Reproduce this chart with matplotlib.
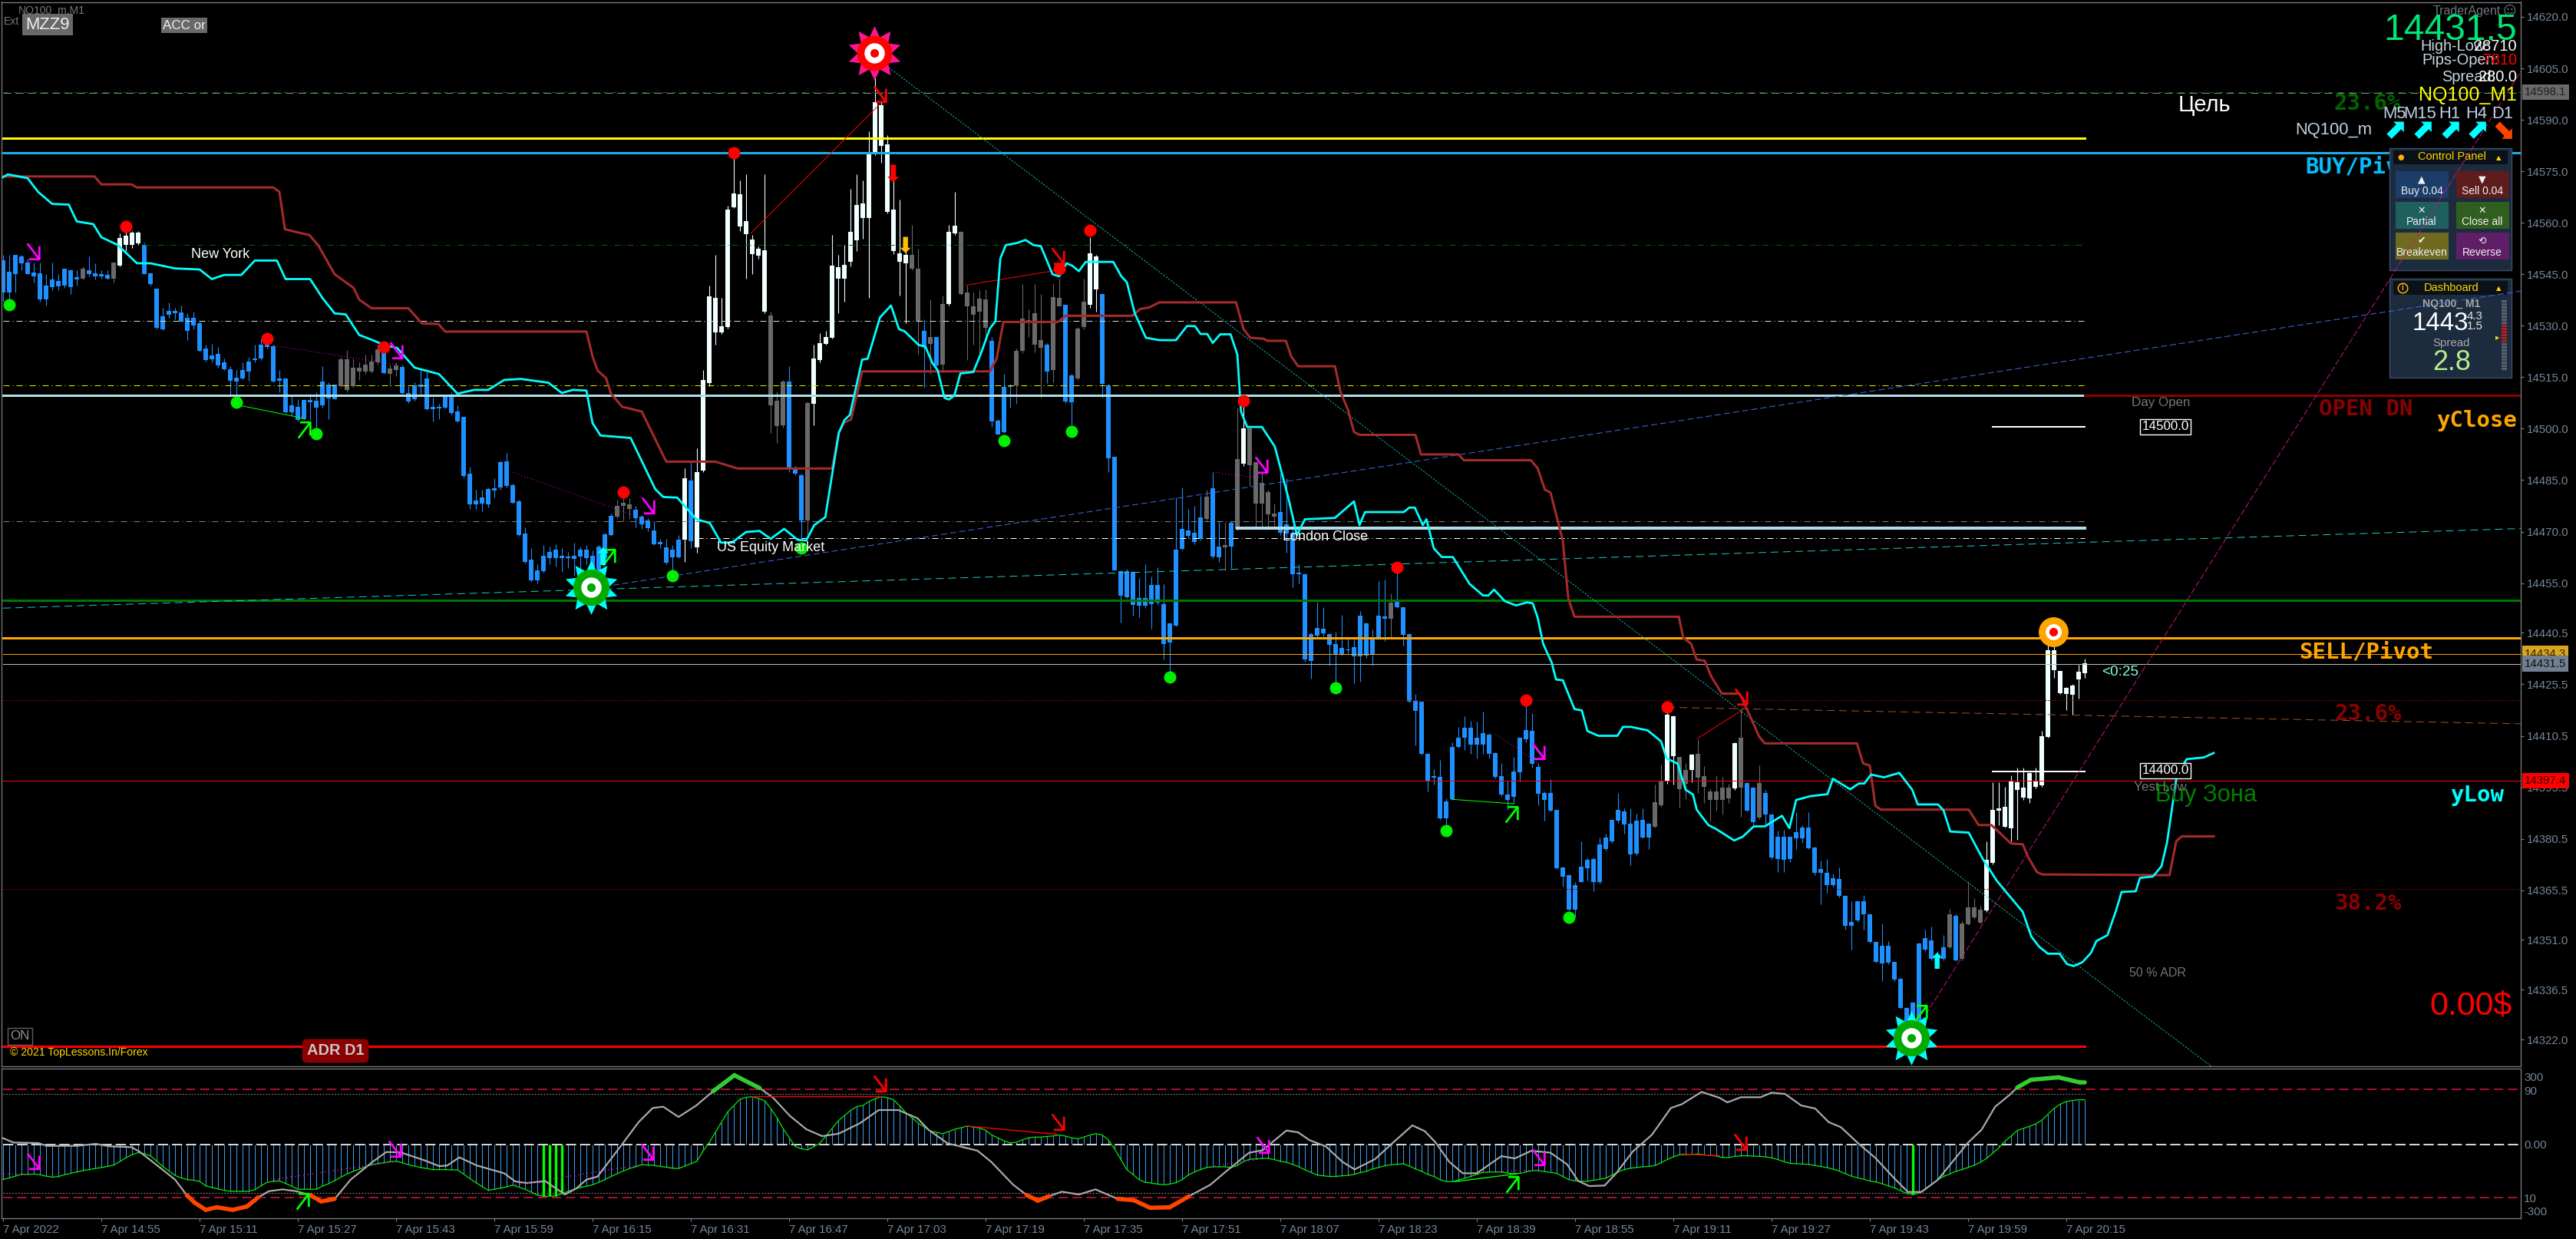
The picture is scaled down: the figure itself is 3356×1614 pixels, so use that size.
import numpy as np
import matplotlib
matplotlib.use('Agg')
import matplotlib.pyplot as plt
from matplotlib.patches import Rectangle
from matplotlib.path import Path
from matplotlib.transforms import Affine2D

# prices below are stored as offset from this base
PRICE_BASE = 14300

candle_top = [
    249,245.6,250.5,250.1,248.2,245.3,245.2,241.6,243.3,242.9,
    246.4,246.1,244.1,246.4,246.1,245.2,245,244.6,248.2,255.5,
    256.2,257,257,253.5,245.2,240.6,232.7,234.1,234.1,233.8,
    232.2,232.2,230.6,223.1,221.2,221.6,219.2,217.2,214.6,217,
    219.5,220.4,224.4,224.4,223.9,214.4,214.4,206.7,206.2,208.2,
    208.2,207.9,213.5,212.8,212.8,220.1,220.1,217.6,217.6,218.5,
    219.3,222.9,223.9,217.4,218.2,217.8,210.2,212.4,212.8,214.4,
    206.2,206.2,209.8,209.8,204.8,203.3,186.8,179,179.9,182.2,
    182.5,190.2,190.4,183.3,178.8,169.4,161.6,158.5,162.8,163.9,
    164.5,162.8,162.6,162.8,164.5,164.5,162.8,165.6,169,174.4,
    177.4,178.2,177.9,176.3,174.2,173.1,170.1,166.8,165.3,164.7,
    167.6,185.4,184.7,187.1,214,238.5,237.9,229.6,263.8,268.4,
    268.1,260.4,255,252.4,251.8,232.8,207.9,213.6,213.6,188.5,
    186.2,207.3,220.4,224.7,226.5,247.3,247,247.5,257.3,265,
    265.5,279.8,295,294.1,282.7,263.8,250.9,250.5,250.5,246.4,
    228.4,226.5,226.5,236.1,257.3,258.9,257.3,239.5,235.6,237.8,
    237.6,225.4,202.2,212.1,212.4,222.5,231.9,231.5,233.6,225.6,
    224.4,238.1,237.9,235.9,215.3,229,236.8,250.9,250.1,239,
    212.4,191.6,158.3,158.4,158.1,150.5,150.5,154.4,154.4,148.7,
    143.2,164.5,170.6,170.2,169.6,174,180.1,182.4,165.6,165.9,
    172.5,191.1,199.9,199.9,190,184.1,181.4,175.1,175.6,171.9,
    169.6,158,157.5,140,141.8,141.6,140,137.1,136,135.6,
    136.3,145.3,143.2,138.6,145.3,145.2,149.1,149.6,147.9,140,
    120.6,120.2,105.1,98.7,98.4,91.3,107.1,109.7,112.8,112.8,
    109.7,111.2,110.6,105.3,98.6,93.2,100,109.7,112.1,111.9,
    101.2,93.6,93.6,88.8,72.1,69.7,66.8,72.2,74.2,74.5,
    78.8,80.8,85.9,88.8,88.3,84.7,85.7,85.9,84.7,91.1,
    97.3,116.4,116.1,104.1,100.3,104.8,105.1,98.6,94.2,94.2,
    95.2,95.2,108.3,109.7,96.5,95.2,96.5,93.6,87.5,80.9,
    80.9,80.9,82.3,83.6,83.6,77.8,71.5,70.4,68.9,68.6,
    63.8,56.2,62.1,62.2,58.4,50.4,49.2,49.1,44.4,39.5,
    31,32.7,49.8,51.3,50.7,46.8,48.8,58.4,58,55.6,
    60.3,60.3,59.7,74.2,88.8,89.2,89.6,97.3,96.9,95.2,
    99.5,97.2,110.2,135.2,135.4,129.2,124.3,125.1,129,131.4]

candle_bottom = [
    239.8,239.8,245,248.2,245,244.4,237.6,237.6,241.2,241.4,
    241.6,241.2,243.6,243.8,245,244.3,244.3,243.8,243.8,247.5,
    253.5,253.5,253.9,245,242.1,229.5,229,233.3,233.6,231.3,
    228.4,230.1,222.7,219.9,220.3,218.5,217.4,213.9,213.8,214.6,
    216.7,219.9,220.4,223.9,213.8,213.9,204.8,204.8,202.5,202.7,
    207.6,206.2,206.7,208.8,208.7,212.4,211.3,212.4,216.7,216.7,
    216.7,219.3,216.2,215.9,217,210.4,207.9,208.5,212.1,205.6,
    205.7,205.8,206.2,204.5,202.2,186.2,177.9,177.9,178.2,178,
    182,182.8,183.3,178.5,169,161.1,155.7,155.7,158.5,162.2,
    162.2,162.2,162.3,162.1,162.8,162.2,153.7,153.7,162.2,169,
    174.4,177.6,176.5,174,172.2,171,166.4,166.4,160.9,162.6,
    162.6,167.6,167.1,165.5,187.9,213.2,228.1,228.1,229.6,264.6,
    258.9,256.7,250.9,250.5,234,206.7,200.8,201,188.5,187,
    173.3,173.3,207.3,219.9,224.7,226.5,243.8,243.8,248.6,255,
    261.3,261.5,280.1,282.4,263.2,251.8,248.6,248.2,246.7,231.3,
    223.9,224.7,218.5,218.7,236.3,256.9,239.3,235.6,233.2,234.1,
    229.5,202.2,198.4,199,212.1,212.7,222.7,231.3,224.4,223.6,
    216.7,217,235.6,207.9,207.7,214.7,229.6,236.1,240.6,213,
    191.3,158.8,151.4,150.9,148.7,148.4,148.4,148.9,149.4,137.3,
    137.7,142.5,164.9,168.8,167,167.9,173.6,162.8,162.6,165.5,
    165.6,170.8,189.8,189.4,178.2,178.2,175.1,174.4,169.6,169.4,
    157.7,157.7,132.7,132.4,139.8,140.4,137.1,134.2,134.3,135.4,
    133.6,133.6,133.8,134.1,138.9,144.7,144.6,148,140,120.5,
    117.8,105.3,97.5,98.4,86.4,86.4,92,107.3,109.9,108,
    108,108,105.3,98.6,93.4,91.9,92.8,99.8,109.6,102.4,
    93.6,91.8,88.8,72,69.5,59.8,59.8,67.8,72,67.8,
    67.8,77.4,79.7,85.7,84.7,75.9,76.1,80.8,80.8,84.1,
    90.2,97.3,104.6,95,96.6,100.5,98.2,95.6,91.8,91.8,
    91.8,92.2,95.2,95.4,88.8,85.3,86.6,87.5,75.1,74.6,
    74.4,74.6,80.6,80.6,77.8,70.6,70.6,66.9,66.9,63.9,
    55.2,55.2,56.7,58.4,50.4,44.7,44.1,44.3,39.5,31.2,
    23.3,23.3,23.7,48.1,45.5,45.5,45.5,48.8,45.1,45.5,
    55.6,57.5,56,59.7,73.4,88.8,84.1,83.6,94.8,92.6,
    92.2,95.6,96,110.2,129.6,123,122.6,122.4,127,128.8]

candle_high = [
    250.7,250.7,250.7,250.7,249.6,248.4,248.4,245,248.4,245,
    246.7,246.4,246.1,247.3,250.1,248.2,246.1,246.1,248.2,257,
    257.5,257.5,257.5,254.3,245.6,240.6,235.3,236.8,235.3,235.9,
    233.6,234.1,231.3,224.4,224.7,223.9,220.4,218.2,217,219.3,
    221,224.4,226.2,227,224.4,217,214.4,209.6,208.5,208.2,
    210.2,210.7,218.2,213.6,212.8,221,223,220.4,219.3,221.6,
    221.6,224.4,225.6,218.7,219.3,218.7,212.4,213.6,217.6,216.4,
    209,207.3,209.8,210.7,206.7,203.3,189,182.2,182.2,182.8,
    185.6,190.8,193,183.9,179.4,171.3,165.1,160.5,166.2,165.6,
    166.4,165.1,164,166.8,165.6,166.2,164.5,166.2,169.6,175.3,
    179.4,181.6,179.7,177.6,174.9,173.9,173.1,167.9,167.9,166.2,
    169.1,188.5,190.2,194.2,217,241.6,250.7,238.1,265,279.2,
    272.4,274.1,256.4,253,274.1,234.1,210.8,214.2,218.2,189.1,
    186.8,207.9,224.4,227.9,228.4,256.4,250.7,253.5,270,274.1,
    272.4,286.7,308.9,295.4,285.5,275.8,266.7,252,259.3,252.4,
    231.9,237.6,226.7,238.7,259.3,269,257.6,241.6,239.8,240.4,
    240.6,226.7,202.8,215.9,213,223.3,242.1,234.7,242.1,239.3,
    225,242.1,243.8,236.1,215.9,229.6,243.8,255.8,250.7,239.3,
    213,191.9,158.7,159.2,158.5,156.4,160.5,156.9,159.6,154.6,
    143.6,179.9,182.8,176.5,177.6,180.5,182.2,187.3,173.1,172.8,
    173.1,206.2,207.3,200.5,190.2,187.3,182.2,178.2,186.8,185.6,
    171.9,160.5,157.8,140.5,149.6,148,140.4,140.9,145.7,139.1,
    138.6,146.8,143.6,141.4,155.5,156,151.9,159.6,148.2,140.4,
    122.6,120.4,105.3,100.7,103.5,92.2,108.5,113,116.2,114.9,
    114.6,117.6,111.2,105.7,102.5,97.5,104.4,109.9,120.8,117.2,
    102.6,94.2,97.8,89,72.4,70.1,67.8,79.7,74.9,75.1,
    80.8,82,86.1,93.9,89.3,89.3,87.9,89.3,85.2,96.2,
    102.1,120.4,116.4,104.4,102.5,105.2,109.4,101.6,95.2,99,
    98.6,96.5,108.5,118.3,96.9,95.6,102,94.8,87.9,82.8,
    83.2,81,88.3,84.5,88.3,78.1,74.2,74.6,70.4,72.1,
    64,62.2,62.2,64,58.8,50.7,55.8,50.7,44.7,39.9,
    31.4,33.1,50.2,54.1,55,47.7,52.4,60.1,58.4,56.6,
    68.2,63.1,61,79.8,96.9,96.9,95.6,99,101.2,101.2,
    99.9,101.2,111.9,141.8,137.6,129.4,124.7,125.6,131.1,133]

candle_low = [
    237,237.6,239.8,246.1,245,242.7,237,235.9,240.4,240.4,
    241,239.3,241.6,243.6,244.4,243.6,243.8,243.6,242.5,247.3,
    251.8,252.7,253.5,245,241.6,229,228.7,232.2,231.9,231.1,
    225.8,229,222.5,219.6,219.3,217.8,217,209.6,209.4,214.4,
    213.9,219.3,220.1,223.3,213.6,210.7,204.5,203.9,202.2,202.5,
    202.5,199.9,206.2,202.7,208.5,211.9,210.7,211.9,214.2,215.9,
    216.2,218.7,215.9,212.4,215.3,210.2,207.5,208.2,209.6,205.4,
    202.2,202.7,206,204.1,201.8,185.8,176.7,176.7,175.9,177,
    179.9,182.3,182.9,178.1,168.7,160.7,155.4,155,158.1,160.5,
    159.9,158.2,159.4,157.1,159.4,160.5,152.5,152.5,161.8,168.7,
    174,173.1,173.6,171.3,170.8,170.2,166.2,165.1,160.5,158.8,
    162.2,161.1,165.1,163.9,187.3,212.4,224.4,227.6,229.2,264.4,
    257.5,243.8,245,249.6,233.6,198.7,195.9,200.4,187.3,186.5,
    167.4,167.9,201,219.3,224.4,226.2,233.6,237,247.3,251.8,
    255.3,238.1,279.8,277.5,262.7,250.8,238.7,230.7,246.1,221.6,
    211.9,215.9,218.2,216.4,235.9,256.4,239.1,219.9,224.4,220.4,
    226.2,200.5,198.2,198.7,206.2,207.3,222.1,226.7,222.2,209,
    213.3,213.6,235.7,207.5,201,214.2,229,235.3,234.1,209,
    187.3,158.7,143.6,150.6,145.5,145,147.8,141.8,148.7,132.7,
    129,142.3,164.5,168.2,166.3,167.4,173.2,162.4,161.1,158.8,
    159.4,170.4,189.1,183.3,170.8,171.3,170.5,171.3,169.1,163.9,
    153.7,154.9,132.2,127.2,139,139.5,131,126.1,133.8,134.6,
    125.8,126.3,133.1,131,138.6,138.2,139.3,147.8,136.8,120.3,
    107.6,105.1,94.3,96.2,86.1,84.7,91.8,107.1,106.4,105.3,
    103.9,105.3,103.9,98,93,88.9,90.7,97.1,108.5,101.2,
    90.2,85.7,88.4,71.6,66.5,59.6,57.8,67.8,68.3,65.1,
    67.4,77,79.3,85.2,82,72.9,75.7,80.6,77.4,83.8,
    89.8,96.6,96.2,89.6,92,96.9,93.9,90.9,85.5,88.8,
    87.5,90.9,94.8,87,88.4,84.5,86.2,84.5,74.6,70.8,
    70.8,73.8,77.6,79.3,77.6,69.9,61.4,64.8,66.5,63.5,
    54.1,48.1,56.2,54.1,50.2,44.3,39.1,43.9,39.1,31,
    22.9,22.9,23.2,47.7,45.1,45.1,45.1,48.5,44.8,45.1,
    55.4,57.1,55.8,59.2,73,84.5,83.7,79.8,80.2,91.8,
    90.9,95.2,95.6,110,127.3,122.6,117.9,116.6,121.3,127.3]

# b = blue, w = white, g = grey candle
candle_kind = ('b'*13 + 'g' + 'b'*4 + 'g' + 'w'*4 + 'b'*32 + 'g'*7 + 'b' + 'gg' + 'b'*35 + 'ggg' +
               'b'*8 + 'w' + 'b' + 'w'*12 + 'ggg' + 'bbb' + 'g' + 'w'*16 + 'gg' + 'b' + 'g' + 'b' + 'g' +
               'ww' + 'g'*5 + 'b'*4 + 'g'*5 + 'b' + 'gg' + 'bb' + 'gg' + 'ww' + 'b'*17 + 'g' + 'bb' + 'g' +
               'b' + 'g' + 'w' + 'g'*5 + 'b'*18 + 'g' + 'b'*42 + 'gg' + 'ww' + 'gg' + 'w' + 'g'*6 + 'w' + 'g' +
               'bb' + 'g' + 'b'*30 + 'g' + 'b' + 'g'*4 + 'w'*17)

cyan_bar = [0,0.8,4,5.7,8,10.7,12,14.7,16,18.7,21.8,24,28,32,34,36,38.8,41,44.6,46,50,52,54,55.8,58,60.2,62,64.2,67,68.7,
            71,74,76.7,79,81.6,84.3,88.8,91,92.8,95,96,97.3,102.2,106.2,107.5,109.8,112.9,115.1,116.9,118.7,121,123.2,
            125,127.2,129.4,130.8,132.1,133.9,136.1,137,137.9,139.9,140.8,142.8,144.6,145.9,146.8,149.1,150.2,151.3,
            152.2,153.3,154,154.9,155.9,158,159.3,160.7,161.6,162.4,163.3,165.1,166.5,167.8,169,170.9,172,173.2,174.1,
            175.2,176.3,180.8,182.1,183,184.3,186.1,188.3,191,192.8,194.1,195,196.1,197,198.2,199.9,201,201.6,202.6,205,
            207.1,209.3,210.7,212,216.9,220,220.9,221.8,228.1,229,229.9,231.2,231.8,233,234.3,236.1,238.8,241,241.9,
            242.8,244.6,246.4,248.2,249.1,249.9,250.8,252.2,252.9,254,255.9,257.1,258,259.8,262.9,263.8,265.1,267.8,
            270,270.9,272.7,274,275.2,275.8,277.7,279.1,281.9,283.3,285.1,286.9,289.7,290.9,292,294.3,297.1,298,300.8,
            302.2,303.1,304.2,306.3,308.8,310.9,311.8,315.1,316,317.1,320.1,322.4,324.7,328.9,330.3,331.6,333,334.9,
            336.1,337.2,338.6,340,340.9,342.7,344.1,345,347.3,348,350.1,351.5,352.4,353.3,354,355.6,358.4,360]
cyan_price = [273.3,274.1,273,269,265.5,265.3,260.4,259.6,255.8,253.5,248.2,248.2,246.7,246.4,243.6,244.8,244.8,249,249,243.6,
              243.6,238.1,233.6,233.3,227.3,225.8,224.4,223.5,217.8,217,215.9,210.2,211.3,211.3,214.2,214.5,213.4,210.4,
              211.3,211.1,201.6,198,197.3,182.4,180.1,179.9,173.6,172.5,166.8,166.8,169.9,170.2,167.9,170.8,167.6,167.4,
              171.9,174.2,198.8,202.5,204,220.1,220.4,232.4,235.9,229,228.4,224.4,223.9,219.3,217,209,208.5,209.6,216.1,
              216.5,222.2,229.2,231.3,249.6,253.5,254.1,255,253.5,253.2,245,244.4,248.2,247.5,245.9,248.6,248.6,244.4,
              242.7,233.6,226.5,225.8,225.8,229.9,229.9,227.6,227.6,225,227.5,227.5,221.6,205,200.5,200.5,194.8,179.9,
              169,173.6,174,178.8,171.9,175.7,175.7,177,177,171.9,173.6,165.1,162.6,162.6,154.8,151.4,151.4,153.1,149.7,
              148.5,149.4,149.1,145,137.3,131.8,126.9,126.7,118.3,117.9,111.9,110.5,110.5,113.1,113.1,112.1,108.9,103.9,
              102.4,94.8,93.4,89,84.5,83.2,80,81.1,84.1,84.1,87.2,83.6,91.8,92.9,93.5,98,94.9,96.6,96.6,99.2,98.4,99.7,
              94.8,90.5,90.5,88.8,82.6,82.3,74.6,68.2,59.2,52,49,47,47,44,43.4,44.5,47.2,50.7,52.4,59.6,65,65.2,69.1,69.5,
              72.5,79.4,90.5,99,103.7,104.2,105.5]

brown_bar = [0,14.9,16,20.9,21.8,44,45,45.9,49.9,51.3,54,57.1,58,60,66,68.2,70.9,72,95,96,96.8,98.2,99,100.8,104,108,116,
             119.6,135,136.1,137,138.1,139.9,160.7,161.8,162.9,171.8,173,183.9,185.2,186.6,188.3,200.8,202,203.1,205.3,
             205.9,208.9,209.8,210.9,216.9,217.8,219,220,220.9,230,230.9,237,237.9,248.8,249.9,251.1,252,254,254.9,
             255.9,272.9,273.6,274.9,275.8,277.1,278.2,279.9,282.8,284.2,286,286.9,301.9,302.9,304,304.9,305.8,320.1,
             321.7,323.8,327,328.9,329.8,331.2,332.1,352.8,353.9,354.8,360]
brown_price = [273.5,273.5,271.2,271.2,270.3,270.3,269,258.1,256.4,253.5,245,241,237.6,235.1,235.1,230.7,230.5,228.3,228.3,
               221,217,214.7,210.2,206.4,205,190.4,190.4,188.4,188.4,198.8,201.8,202.7,216.7,216.7,220.4,231.1,231.1,232.9,
               232.9,234.9,235.3,236.8,236.8,229,226.5,226.2,225.6,225.6,221,218.2,218.2,210.7,205.6,199,198.2,198.2,192.5,
               192.5,190.8,190.8,188.5,182.2,181.4,167.4,150.5,145.2,145.2,139.1,137.3,132.7,132.4,127.7,122.8,122.8,117.4,
               110.2,108.3,108.3,102.5,101.8,90.1,89,89,84.5,84.5,79.1,78.9,75.1,70.8,70.1,69.9,79.8,81.2,81.2]

# oscillator pane
osc_bar = [0,1.7,5.75,7.1,12,15.1,17.4,20.9,22.3,25.4,28,29.9,31.2,33,34.8,37.4,39.7,41.5,43.3,45.5,47.7,50,51.8,54,56.6,60.2,
           62.4,64.7,68.7,71,72.3,74.3,77.2,81.6,83.4,85.2,88.3,91.5,93.3,95,96.8,100.4,103.5,105.8,107.5,110,112.9,115.6,
           119.1,123.2,125.4,128.1,130.8,133.4,136.1,139.5,142.6,145.8,148.9,150.7,153.8,158.7,160.9,164.5,166.7,168.5,
           170.3,172.4,175.2,177.9,181.5,184.1,186.8,190,193.1,196.6,199.3,202.9,205.1,209,210.9,212.7,215.4,218.1,220.1,
           223.4,226.6,229.5,231.5,233.3,235.5,237.7,240,244,246.2,248.9,252,254.7,256.5,258.3,260.8,262.7,265.4,268.5,
           271.6,273.4,276.6,279.5,280.8,283,286.2,288,290.2,292.8,295.1,297.3,299.3,302.2,304.9,308,310.2,312.4,315.1,
           317.8,320,322.2,324.4,326.7,328,330.2,334.7,338.2,339]
osc_value = [17.8,5.2,3.7,-4.4,-4.4,1.5,-5.9,-8.1,-22.2,-65.2,-102,-146.7,-168.9,-189.6,-182.2,-189.6,-180,-154,-135.5,-130.4,
             -135.5,-146.7,-165.2,-157.8,-102.2,-50.4,-22.2,-23,-46.7,-63,-61.5,-37.8,-61.5,-83.7,-107.4,-111.9,-106.7,-145.2,
             -128.1,-102.2,-93.3,-9.6,64.4,105.2,108.9,79.3,112.6,153.3,200,163,134.8,83,43.7,23.7,31.1,60.7,99.3,99.3,75.6,
             42.2,3,-18.5,-50.4,-117,-146.7,-163,-150.4,-137,-145.2,-130.4,-157.8,-161.5,-183.7,-182.2,-150.4,-117,-76.3,-24.4,
             -17,40,34.8,12.6,-5.9,-50.4,-72.6,-43,8.9,54.8,38.5,5.2,-50.4,-83.7,-83.7,-34.1,-40.7,-18.5,-24.4,-57.8,-105.9,
             -120.7,-119.3,-83.7,-20.7,27.4,105.2,116.3,151.8,134.8,121.5,136.3,136.3,149.6,145.9,112.6,103.7,64.4,49.6,1.5,
             -39.3,-98.5,-137.8,-137.8,-102.2,-43,5.2,42.2,108.9,142.2,164.4,186.7,194,179.3,179.3]

hist_value = [
    -102,-97,-92,-87,-87,-86,-88,-92,-95,-93,-88,-84,-80,-76,-73,-70,-67,-64,-60,-50,
    -39,-30,-24,-27,-33,-48,-64,-77,-90,-97,-102,-104,-107,-120,-125,-129,-133,-136,-136,-136,
    -136,-131,-120,-110,-107,-106,-113,-121,-130,-130,-130,-130,-121,-114,-105,-95,-86,-78,-72,-65,
    -59,-56,-53,-50,-49,-53,-59,-63,-67,-70,-73,-73,-73,-74,-74,-86,-99,-111,-122,-133,
    -130,-127,-123,-118,-124,-130,-138,-147,-150,-150,-149,-143,-136,-130,-125,-121,-117,-110,-102,-93,
    -85,-77,-70,-65,-59,-60,-61,-64,-66,-69,-70,-63,-56,-49,-19,5,35,64,94,112,
    131,136,138,133,127,104,78,46,20,-6,-13,-16,-7,3,24,46,68,83,98,109,
    112,124,132,138,135,129,112,92,77,62,50,39,35,31,37,44,48,53,50,47,
    41,27,19,10,4,6,13,19,21,21,23,24,27,24,19,16,21,27,31,27,
    13,-13,-43,-73,-87,-102,-110,-112,-115,-117,-115,-111,-102,-89,-80,-73,-67,-65,-65,-65,
    -67,-61,-50,-43,-42,-41,-41,-44,-49,-52,-58,-65,-74,-81,-89,-91,-93,-93,-91,-90,
    -87,-82,-78,-71,-67,-62,-59,-58,-56,-63,-71,-78,-87,-93,-102,-108,-108,-104,-98,-93,
    -87,-81,-80,-80,-80,-83,-85,-84,-80,-76,-76,-79,-81,-84,-93,-102,-106,-107,-107,-104,
    -101,-98,-89,-80,-73,-69,-67,-65,-64,-61,-53,-44,-36,-30,-30,-29,-28,-30,-32,-34,
    -38,-38,-35,-33,-33,-34,-35,-36,-39,-44,-50,-55,-56,-57,-58,-61,-64,-67,-72,-77,
    -85,-92,-97,-101,-106,-109,-114,-120,-126,-134,-142,-145,-141,-130,-117,-103,-93,-86,-78,-73,
    -67,-60,-52,-41,-26,-10,9,24,40,46,52,59,70,87,104,116,124,127,129,129]
signal_bars = [88, 89, 90, 91, 311]
osc_ticks = [197, 157, 0, -156, -194]
osc_tick_labels = ['300', '90', '0.00', '10', '-300']

price_ticks = [14620.0,14605.0,14590.0,14575.0,14560.0,14545.0,14530.0,14515.0,14500.0,14485.0,14470.0,
               14455.0,14440.5,14425.5,14410.5,14395.5,14380.5,14365.5,14351.0,14336.5,14322.0]
time_labels = ['7 Apr 2022','7 Apr 14:55','7 Apr 15:11','7 Apr 15:27','7 Apr 15:43','7 Apr 15:59','7 Apr 16:15',
               '7 Apr 16:31','7 Apr 16:47','7 Apr 17:03','7 Apr 17:19','7 Apr 17:35','7 Apr 17:51','7 Apr 18:07',
               '7 Apr 18:23','7 Apr 18:39','7 Apr 18:55','7 Apr 19:11','7 Apr 19:27','7 Apr 19:43','7 Apr 19:59',
               '7 Apr 20:15']

red_dot_bar = [20,43,62,101,119,172,177,202,227,248,271]
red_dot_price = [258.9,226.2,223.9,181.6,280.4,246.7,257.8,208.2,159.7,121,118.8]
green_dot_bar = [1,38,51,109,130,163,174,190,217,235,255]
green_dot_price = [236.2,207.6,198.5,157.1,165.1,196.5,199.3,127.7,124.5,82.9,57.6]

W, H = 3356, 1614
BG = '#000000'
GRID = '#808080'
TICK = '#76879b'
SANS = 'Liberation Sans'
MONO = 'DejaVu Sans Mono'

fig = plt.figure(figsize=(W / 100, H / 100), dpi=100, facecolor=BG)
ax = fig.add_axes([2 / W, 1 - 1389 / H, 3282 / W, 1386.5 / H], facecolor=BG)
ax2 = fig.add_axes([2 / W, 1 - 1587 / H, 3282 / W, 195 / H], facecolor=BG)
px = Affine2D().scale(1, -1).translate(0, H)  # screen pixels, origin top left

# corner arrows like the terminal draws them
arrow_codes = [Path.MOVETO, Path.LINETO, Path.MOVETO, Path.LINETO, Path.LINETO]
down_right = Path([(-0.42, 0.6), (0.42, -0.5), (-0.3, -0.5), (0.42, -0.5), (0.42, 0.42)], arrow_codes)
up_right = Path([(-0.42, -0.6), (0.42, 0.5), (-0.3, 0.5), (0.42, 0.5), (0.42, -0.42)], arrow_codes)
corner = {'dn': down_right, 'up': up_right}
fat_star = Path.unit_regular_star(10, innerCircle=0.62)


def price(v):
    return PRICE_BASE + np.asarray(v, dtype=float)


def label(x, y, s, size, color, ha='left', family=SANS, weight='normal', z=30, bbox=None):
    ax.text(x, y, s, fontsize=size * 0.72, color=color, ha=ha, va='center', family=family, weight=weight,
            transform=px, clip_on=False, zorder=z, bbox=bbox)


def box(x0, y0, x1, y1, color, edge='none', z=6):
    ax.add_patch(Rectangle((x0, y0), x1 - x0, y1 - y0, transform=px, facecolor=color, edgecolor=edge,
                           linewidth=1, zorder=z, clip_on=False))


for a in (ax, ax2):
    a.set_xlim(-0.25, 410)
    for s in a.spines.values():
        s.set_color(GRID)
        s.set_linewidth(0.9)
ax.set_ylim(14314.2, 14624.36)
ax2.set_ylim(-214, 219.3)

# candles
kind_color = {'b': '#1e90ff', 'w': '#f0ffff', 'g': '#696969'}
bars = np.arange(len(candle_top))
colors = [kind_color[k] for k in candle_kind]
ax.vlines(bars, price(candle_low), price(candle_high), colors=colors, linewidth=0.8, zorder=2)
ax.bar(bars, np.array(candle_top) - np.array(candle_bottom) + 0.15, bottom=price(candle_bottom), width=0.85,
       color=colors, linewidth=0, zorder=2)

# horizontal levels: price, first bar, last bar, colour, width, dash style
last = 339
right = 410
levels = [
    (298.1, 0, right, '#006400', 1, (0, (6, 3, 1, 3))),
    (297.8, 0, right, '#8a8a8a', 1, (0, (10, 6))),
    (284.6, 0, last, '#ffff00', 3, '-'),
    (280.3, 0, right, '#1cace6', 3, '-'),
    (253.5, 23, last, '#006400', 1, (0, (8, 4, 1, 4))),
    (231.4, 0, last, '#d8d8d8', 1, (0, (8, 4, 1, 4))),
    (212.7, 0, last, '#e8e800', 1, (0, (8, 4, 1, 4))),
    (209.7, 0, last, '#b0e0e6', 3, '-'),
    (209.7, last, right, '#8b0000', 3, '-'),
    (173.1, 0, last, '#808080', 1, (0, (8, 4, 1, 4))),
    (171.0, 201, last, '#b0e0e6', 4, '-'),
    (168.0, 113, last, '#ffffff', 1, (0, (8, 4, 1, 4))),
    (149.9, 0, right, '#007800', 3, '-'),
    (139.0, 0, right, '#ffa500', 3, '-'),
    (134.4, 0, right, '#ffa500', 1, '-'),
    (131.5, 0, right, '#c0c0c0', 1, '-'),
    (120.9, 0, right, '#8b0000', 1, (0, (2, 2))),
    (97.5, 0, right, '#ff0000', 1, '-'),
    (65.9, 0, right, '#8b0000', 1, (0, (2, 2))),
    (20.0, 0, last, '#ff0000', 3, '-'),
    (200.5, 324, last, '#ffffff', 2, '-'),
    (100.0, 324, last, '#ffffff', 2, '-'),
]
for lv, x0, x1, c, lw, ls in levels:
    ax.plot([x0, x1], [PRICE_BASE + lv] * 2, color=c, linewidth=lw * 0.72, linestyle=ls, zorder=3)

# trend lines
trends = [
    ([141.9, 359.6], [308.4, 14.2], '#20c8c8', (0, (2, 2))),
    ([96.4, 410], [153.6, 240.1], '#4169e1', (0, (8, 4))),
    ([0, 410], [147.7, 170.9], '#20c8c8', (0, (10, 6))),
    ([271, 410], [118.8, 114], '#a0522d', (0, (10, 6))),
    ([310.9, 410], [23, 304.1], '#c71585', (0, (8, 3))),
    ([121.8, 142.8], [257, 294.6], '#ff0000', '-'),
    ([156.8, 171.4], [241.8, 246.1], '#ff0000', '-'),
    ([275.9, 283.3], [109.7, 118.1], '#ff0000', '-'),
    ([37.9, 49], [207, 203], '#00ff00', '-'),
    ([235.9, 246], [92, 90.7], '#00ff00', '-'),
    ([44.1, 64.2], [224.2, 218.7], '#ff00ff', (0, (1, 3))),
    ([83, 105.3], [187.3, 173.1], '#ff00ff', (0, (1, 3))),
    ([0, 4.9], [250.1, 248.4], '#ff00ff', (0, (1, 3))),
    ([197, 204.9], [187.3, 185.6], '#ff00ff', (0, (1, 3))),
    ([243, 250], [111, 102.6], '#ff00ff', (0, (1, 3))),
]
for xs, ys, c, ls in trends:
    ax.plot(xs, price(ys), color=c, linewidth=0.72, linestyle=ls, zorder=8)

# channel lines
ax.plot(brown_bar, price(brown_price), color='#a52a2a', linewidth=2.2, zorder=9, solid_joinstyle='round')
ax.plot(cyan_bar, price(cyan_price), color='#00ffff', linewidth=2.0, zorder=9, solid_joinstyle='round')

# swing dots
ax.plot(red_dot_bar, price(red_dot_price), 'o', color='#ff0000', markersize=11.5, markeredgewidth=0, zorder=10)
ax.plot(green_dot_bar, price(green_dot_price), 'o', color='#00ee00', markersize=11.5, markeredgewidth=0, zorder=10)


def target(bar, value, star, rings):
    y = PRICE_BASE + value
    if star:
        ax.plot([bar], [y], marker=fat_star, color=star, markersize=51, markeredgewidth=0, zorder=11, clip_on=False)
    for i, (c, ms) in enumerate(rings):
        ax.plot([bar], [y], 'o', color=c, markersize=ms, markeredgewidth=0, zorder=11 + i * 0.01, clip_on=False)


target(141.9, 309.5, '#ff1493', [('#ff0000', 33), ('#ffffff', 19), ('#ff0000', 8)])
target(95.8, 153.8, '#00ffff', [('#00aa00', 34), ('#ffffff', 19), ('#00aa00', 8)])
target(310.7, 22.5, '#00ffff', [('#00aa00', 34), ('#ffffff', 19), ('#00aa00', 8)])
target(333.9, 140.8, None, [('#ffa500', 28), ('#ffffff', 15), ('#ff0000', 8)])

# signal arrows
arrows = [
    (4.9, 251.6, 'dn', '#ff00ff'), (64, 222.7, 'dn', '#ff00ff'), (105, 177.6, 'dn', '#ff00ff'),
    (204.9, 189.4, 'dn', '#ff00ff'), (250, 106, 'dn', '#ff00ff'),
    (49, 199.9, 'up', '#00ff00'), (245.6, 87.8, 'up', '#00ff00'), (98.6, 162.8, 'up', '#00ff00'),
    (312.3, 29.9, 'up', '#00ff00'),
    (142.8, 297.5, 'dn', '#ff0000'), (171.8, 250.1, 'dn', '#ff0000'), (283, 121.7, 'dn', '#ff0000'),
]
for b, v, g, c in arrows:
    ax.plot([b], [PRICE_BASE + v], marker=corner[g], markersize=16, markerfacecolor='none', markeredgecolor=c,
            markeredgewidth=2, linestyle='none', zorder=12)
for b, v, g, c, size in [(144.9, 273.8, '⬇', '#ff0000', 22), (146.8, 253, '⬇', '#ffc000', 20),
                         (97.7, 162.2, '⬆', '#00ffff', 22), (314.8, 44.3, '⬆', '#00ffff', 20)]:
    ax.text(b, PRICE_BASE + v, g, color=c, fontsize=size, ha='center', va='center', family='DejaVu Sans', zorder=12)

# price scale
ax.yaxis.tick_right()
ax.set_yticks(price_ticks)
ax.set_yticklabels(['%.1f' % p for p in price_ticks], fontsize=10.8, color=TICK, family=SANS)
ax.tick_params(axis='y', length=3, width=0.8, color=GRID, pad=3)
ax.set_xticks([])

tags = [(298.1, '14598.1', '#696969', '#202020'), (134.4, '14434.3', '#daa520', '#302000'),
        (131.5, '14431.5', '#708090', '#101010'), (97.4, '14397.4', '#ff0000', '#300000')]
for v, s, bg, fg in tags:
    ax.annotate(s, (1, PRICE_BASE + v), xycoords=ax.get_yaxis_transform(), xytext=(3.5, 0),
                textcoords='offset points', color=fg, fontsize=10.8, va='center', family=SANS, zorder=20,
                annotation_clip=False, bbox=dict(boxstyle='square,pad=0.22', fc=bg, ec='none'))

# panels under the trend lines
box(3113, 193, 3272, 352, '#1c2b3d', '#3c5068')
box(3118, 196, 3267, 214, '#0b1118')
box(3113, 363, 3272, 492, '#1c2b3d', '#3c5068')
box(3118, 366, 3267, 384, '#0b1118')
buttons = [
    (3121, 223, '#1c3d6a', '▲', 'Buy 0.04'), (3200, 223, '#5e1c1c', '▼', 'Sell 0.04'),
    (3121, 263, '#1e6060', '✕', 'Partial'), (3200, 263, '#2f5e1e', '✕', 'Close all'),
    (3121, 303, '#6e6a20', '✔', 'Breakeven'), (3200, 303, '#5f1e66', '⟲', 'Reverse'),
]
for x0, y0, c, icon, s in buttons:
    box(x0, y0, x0 + 69, y0 + 35, c)
    ax.text(x0 + 34, y0 + 11, icon, fontsize=9, color='#f0f0f0', ha='center', va='center', family='DejaVu Sans',
            transform=px, clip_on=False, zorder=7)
    ax.text(x0 + 34, y0 + 26, s, fontsize=10, color='#f0f0f0', ha='center', va='center', family=SANS,
            transform=px, clip_on=False, zorder=7)
ax.text(3194, 204, 'Control Panel', fontsize=10.5, color='#ffd700', ha='center', va='center', family=SANS,
        transform=px, clip_on=False, zorder=7)
ax.text(3194, 375, 'Dashboard', fontsize=10.5, color='#ffd700', ha='center', va='center', family=SANS,
        transform=px, clip_on=False, zorder=7)
ax.text(3128, 205, '●', fontsize=7, color='#ffb000', ha='center', va='center', family='DejaVu Sans',
        transform=px, clip_on=False, zorder=7)
# info icon of the dashboard header: ring with an i
ax.plot([3130], [375], 'o', markersize=9, markerfacecolor='none', markeredgecolor='#ffb000', markeredgewidth=1.1,
        transform=px, clip_on=False, zorder=7)
ax.text(3130, 375, 'i', fontsize=7, color='#ffb000', ha='center', va='center', family=SANS, weight='bold',
        transform=px, clip_on=False, zorder=8)
ax.text(3255, 206, '▲', fontsize=6, color='#ffd700', ha='center', va='center', family='DejaVu Sans',
        transform=px, clip_on=False, zorder=7)
ax.text(3255, 376, '▲', fontsize=6, color='#ffd700', ha='center', va='center', family='DejaVu Sans',
        transform=px, clip_on=False, zorder=7)
for y in range(391, 481, 4):
    box(3259, y, 3266, y + 3, '#b02020' if 421 <= y <= 443 else '#5a6470', z=7)
ax.text(3254, 440, '▶', fontsize=5, color='#ffd700', ha='center', va='center', family='DejaVu Sans',
        transform=px, clip_on=False, zorder=8)
for x, y, s, size, c, w in [(3194, 396, 'NQ100_ M1', 14, '#a8a8a8', 'bold'), (3179, 421, '1443', 33, '#ffffff', 'normal'),
                            (3224, 412, '4.3', 15, '#e8e8e8', 'normal'), (3224, 425, '1.5', 15, '#e8e8e8', 'normal'),
                            (3194, 447, 'Spread', 15, '#a8a8a8', 'normal'), (3194, 473, '2.8', 36, '#b4f08c', 'normal')]:
    ax.text(x, y, s, fontsize=size * 0.72, color=c, weight=w, ha='center', va='center', family=SANS,
            transform=px, clip_on=False, zorder=7)

# text on the chart
label(24, 14, 'NQ100_m,M1', 14, '#707880')
label(5, 28, 'Ext', 14, '#707880')
label(62, 32, 'MZZ9', 22, '#f0f0f0', ha='center', bbox=dict(boxstyle='square,pad=0.18', fc='#696969', ec='none'))
label(240, 33, 'ACC or', 17, '#f0f0f0', ha='center', bbox=dict(boxstyle='square,pad=0.12', fc='#696969', ec='none'))
label(26, 1350, 'ON', 17, '#909090', ha='center', bbox=dict(boxstyle='square,pad=0.2', fc='#000000', ec='#606060'))
label(13, 1371, '© 2021 TopLessons.In/Forex', 14, '#ffd700')
label(437, 1369, 'ADR D1', 20, '#c8c8c8', ha='center', weight='bold',
      bbox=dict(boxstyle='round,pad=0.3', fc='#8b0000', ec='none'))
label(249, 331, 'New York', 18, '#ffffff')
label(934, 713, 'US Equity Market', 18, '#ffffff')
label(1671, 700, 'London Close', 18, '#ffffff')

label(3258, 15, 'TraderAgent', 16, '#707880', ha='right')
label(3270, 15, '☺', 17, '#707880', ha='center', family='DejaVu Sans')
label(3279, 40, '14431.5', 48, '#00e676', ha='right')
label(3153, 60, 'High-Low:', 20, '#c8d4e0')
label(3279, 60, '28710', 20, '#ffffff', ha='right')
label(3155, 79, 'Pips-Open:', 20, '#c8d4e0')
label(3279, 79, '-7810', 20, '#ff0000', ha='right')
label(3181, 100, 'Spread:', 20, '#c8d4e0')
label(3279, 100, '280.0', 20, '#ffffff', ha='right')
label(3279, 124, 'NQ100_M1', 25, '#ffff00', ha='right')
for x, s in [(3104, 'M5'), (3131, 'M15'), (3177, 'H1'), (3212, 'H4'), (3246, 'D1')]:
    label(x, 149, s, 22, '#c0d0e4')
label(2990, 170, 'NQ100_m', 22, '#c0d0e4')
for x in (3120, 3156, 3192, 3227):
    label(x, 170, '⬈', 36, '#00ffff', ha='center', family='DejaVu Sans', weight='bold')
label(3261, 170, '⬊', 36, '#ff4500', ha='center', family='DejaVu Sans', weight='bold')
label(2838, 137, 'Цель', 29, '#ffffff')
label(3040, 135, '23.6%', 29, '#006400', family=MONO, weight='bold', z=5)
label(3003, 217, 'BUY/Pivot', 29, '#00bfff', family=MONO, weight='bold', z=5)
label(3021, 533, 'OPEN DN', 29, '#8b0000', family=MONO, weight='bold')
label(3174, 548, 'yClose', 29, '#ffa500', family=MONO, weight='bold')
label(2777, 525, 'Day Open', 17, '#757575')
label(2995, 850, 'SELL/Pivot', 29, '#ffa500', family=MONO, weight='bold')
label(3041, 930, '23.6%', 29, '#8b0000', family=MONO, weight='bold')
label(3041, 1177, '38.2%', 29, '#8b0000', family=MONO, weight='bold')
label(3192, 1036, 'yLow', 29, '#00ffff', family=MONO, weight='bold')
label(2808, 1036, 'Buy Зона', 31, '#008000')
label(2780, 1025, 'Yest Low', 17, '#757575')
label(2774, 1267, '50 % ADR', 16, '#757575')
label(2738, 876, '<0:25', 19, '#7fffd4')
label(3273, 1310, '0.00$', 43, '#ff0000', ha='right')
for y, s in [(556, '14500.0'), (1004, '14400.0')]:
    label(2821, y, s, 17, '#ffffff', ha='center', bbox=dict(boxstyle='square,pad=0.12', fc='#000000', ec='#ffffff'))

# oscillator pane
osc_bars = np.arange(len(hist_value))
ax2.vlines(osc_bars, 0, hist_value, colors='#3a9cf2', linewidth=0.72, zorder=2)
ax2.vlines(signal_bars, 0, [hist_value[b] for b in signal_bars], colors='#00ff00', linewidth=2.4, zorder=3)
ax2.plot(osc_bars, hist_value, color='#00f000', linewidth=0.9, zorder=4)
for lv, x1, c, lw, ls in [(158.7, right, '#dc143c', 1.1, (0, (8, 4))), (-155, right, '#dc143c', 1.1, (0, (8, 4))),
                          (145, last, '#909090', 0.8, (0, (1.5, 2))), (-141, last, '#909090', 0.8, (0, (1.5, 2))),
                          (0, right, '#ffffff', 1.2, (0, (8, 3)))]:
    ax2.plot([0, x1], [lv, lv], color=c, linewidth=lw, linestyle=ls, zorder=3)
ax2.plot(osc_bar, osc_value, color='#a9a9a9', linewidth=1.6, zorder=5)
osc_arr = np.array(osc_value)
for i in range(len(osc_bar) - 1):
    a, b = osc_arr[i], osc_arr[i + 1]
    if a > 150 and b > 150:
        ax2.plot(osc_bar[i:i + 2], osc_value[i:i + 2], color='#32cd32', linewidth=4, zorder=6, solid_capstyle='round')
    elif a < -146 and b < -146:
        ax2.plot(osc_bar[i:i + 2], osc_value[i:i + 2], color='#ff4500', linewidth=4, zorder=6, solid_capstyle='round')

osc_trends = [
    ([122, 143], [138.5, 138.5], '#ff0000', '-'), ([157, 171.6], [53, 29], '#ff0000', '-'),
    ([273.4, 279.5], [-28, -33], '#ff0000', '-'), ([236.4, 246.6], [-108, -85], '#00ff00', '-'),
    ([0, 4.9], [-86, -86], '#ff00ff', (0, (1, 3))), ([44.1, 63.8], [-102, -50], '#ff00ff', (0, (1, 3))),
    ([83.4, 104], [-117, -59], '#ff00ff', (0, (1, 3))), ([196.6, 205.1], [-65, -41], '#ff00ff', (0, (1, 3))),
    ([243.5, 250.2], [-79, -74], '#ff00ff', (0, (1, 3))),
]
for xs, ys, c, ls in osc_trends:
    ax2.plot(xs, ys, color=c, linewidth=1.0, linestyle=ls, zorder=5)
for b, v, g, c in [(4.9, -49, 'dn', '#ff00ff'), (63.8, -13, 'dn', '#ff00ff'), (104.9, -22, 'dn', '#ff00ff'),
                   (205.1, -4, 'dn', '#ff00ff'), (250, -39, 'dn', '#ff00ff'), (48.8, -163, 'up', '#00ff00'),
                   (245.8, -115, 'up', '#00ff00'), (142.8, 175, 'dn', '#ff0000'), (171.8, 64, 'dn', '#ff0000'),
                   (282.9, 5, 'dn', '#ff0000')]:
    ax2.plot([b], [v], marker=corner[g], markersize=16, markerfacecolor='none', markeredgecolor=c,
             markeredgewidth=2, linestyle='none', zorder=7)

label(7, 1404, 'cci div: M1  haos (cci) visual  179.2999 179.2999 109.8778 200.0000 100.0000 0.0000 -100.0000 -200.0000',
      15, '#76879b')

ax2.yaxis.tick_right()
ax2.set_yticks(osc_ticks)
ax2.set_yticklabels(osc_tick_labels, fontsize=10.8, color=TICK, family=SANS)
ax2.tick_params(axis='y', length=0, pad=3)
ax2.set_xticks(np.arange(len(time_labels)) * 16)
ax2.set_xticklabels(time_labels, fontsize=10.8, color=TICK, family=SANS, ha='left')
ax2.tick_params(axis='x', length=3, width=0.8, color=GRID, pad=3)

fig.savefig('out.png', dpi=100, facecolor=BG)
